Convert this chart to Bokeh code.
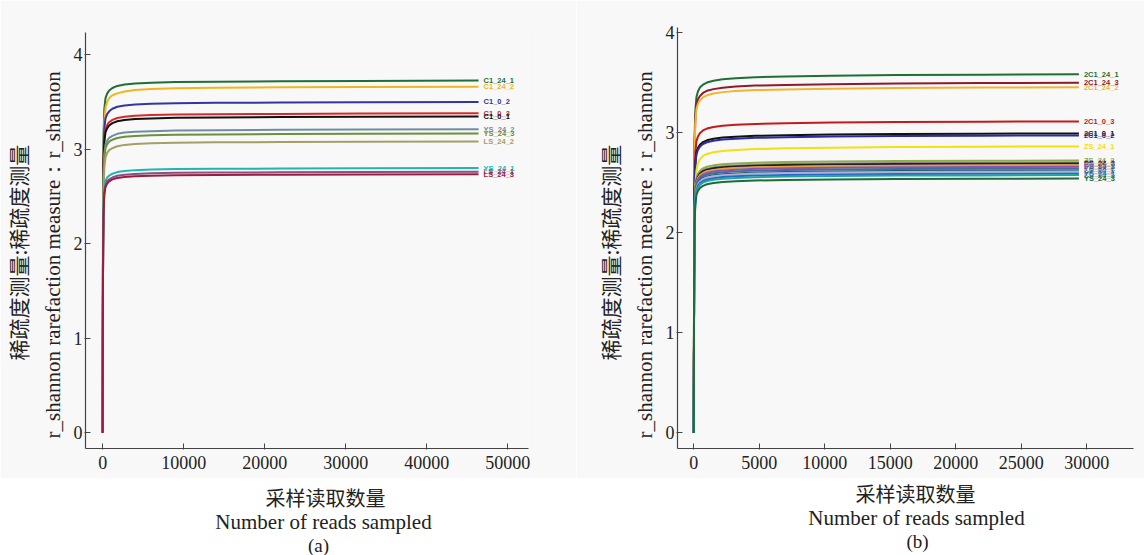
from bokeh.plotting import figure
from bokeh.layouts import row, column
from bokeh.models import Range1d, FixedTicker, Title
from bokeh.core.properties import value
from bokeh.embed import file_html
from bokeh.resources import INLINE

# ---------------- data: panel (a) ----------------
reads_a = [0, 40, 100, 200, 350, 550, 800, 1200, 1800, 2700, 4000, 6000, 9000,
           14000, 22000, 32000, 46400]
labels_a = ["C1_24_1", "C1_24_2", "C1_0_2", "C1_0_3", "C1_0_1", "YS_24_2",
            "YS_24_3", "LS_24_2", "YS_24_1", "LS_24_1", "LS_24_3"]
values_a = [
    [0, 2.235, 3.129, 3.427, 3.539, 3.587, 3.621, 3.647, 3.669, 3.684, 3.695, 3.703, 3.710, 3.714, 3.718, 3.721, 3.725],
    [0, 2.05, 2.95, 3.29, 3.44, 3.50, 3.54, 3.57, 3.59, 3.61, 3.625, 3.635, 3.645, 3.65, 3.655, 3.658, 3.66],
    [0, 2.10, 2.94, 3.22, 3.325, 3.37, 3.40, 3.427, 3.448, 3.462, 3.472, 3.479, 3.486, 3.490, 3.493, 3.497, 3.50],
    [0, 2.03, 2.84, 3.11, 3.21, 3.255, 3.285, 3.31, 3.33, 3.343, 3.353, 3.36, 3.366, 3.37, 3.373, 3.377, 3.38],
    [0, 2.00, 2.81, 3.08, 3.18, 3.22, 3.25, 3.275, 3.295, 3.308, 3.318, 3.325, 3.332, 3.336, 3.339, 3.342, 3.345],
    [0, 1.93, 2.70, 2.95, 3.05, 3.09, 3.12, 3.14, 3.162, 3.175, 3.184, 3.19, 3.197, 3.20, 3.204, 3.207, 3.21],
    [0, 1.90, 2.66, 2.91, 3.01, 3.05, 3.08, 3.10, 3.118, 3.13, 3.14, 3.146, 3.152, 3.156, 3.159, 3.162, 3.165],
    [0, 1.80, 2.55, 2.80, 2.91, 2.96, 2.99, 3.01, 3.03, 3.045, 3.055, 3.062, 3.068, 3.072, 3.075, 3.078, 3.08],
    [0, 1.68, 2.35, 2.58, 2.66, 2.70, 2.72, 2.74, 2.757, 2.768, 2.778, 2.784, 2.789, 2.792, 2.795, 2.797, 2.80],
    [0, 1.66, 2.32, 2.54, 2.62, 2.66, 2.68, 2.70, 2.718, 2.73, 2.738, 2.744, 2.749, 2.752, 2.755, 2.757, 2.76],
    [0, 1.64, 2.30, 2.52, 2.60, 2.635, 2.66, 2.68, 2.695, 2.705, 2.713, 2.719, 2.724, 2.727, 2.73, 2.732, 2.735],
]
colors_a = ["#1f6f35", "#f2b51c", "#3535a0", "#d42a2a", "#111111", "#6f8ea0",
            "#6e8f3c", "#a3a064", "#20b5b0", "#8a4f86", "#9a1e3c"]
xticks_a = [0, 10000, 20000, 30000, 40000, 50000]

# ---------------- data: panel (b) ----------------
reads_b = [0, 25, 60, 120, 200, 320, 480, 700, 1000, 1500, 2200, 3200, 4700,
           7000, 10500, 15500, 22000, 29400]
labels_b = ["2C1_24_1", "2C1_24_3", "2C1_24_2", "2C1_0_3", "2C1_0_1", "2C1_0_2",
            "ZS_24_1", "ZS_24_2", "ZS_24_3", "PS_24_3", "PS_24_1", "PS_24_2",
            "YS_24_2", "LS_24_1", "LS_24_2", "YS_24_1", "LS_24_3", "YS_24_3"]
values_b = [
    [0, 2.15, 2.94, 3.22, 3.35, 3.41, 3.45, 3.476, 3.498, 3.516, 3.53, 3.541, 3.551, 3.559, 3.566, 3.573, 3.576, 3.58],
    [0, 2.10, 2.87, 3.15, 3.27, 3.33, 3.365, 3.394, 3.415, 3.432, 3.446, 3.457, 3.467, 3.474, 3.481, 3.488, 3.492, 3.495],
    [0, 2.07, 2.83, 3.10, 3.23, 3.285, 3.32, 3.35, 3.37, 3.388, 3.402, 3.412, 3.422, 3.429, 3.436, 3.443, 3.447, 3.45],
    [0, 1.87, 2.55, 2.80, 2.91, 2.96, 2.995, 3.02, 3.038, 3.054, 3.066, 3.076, 3.085, 3.091, 3.098, 3.104, 3.107, 3.11],
    [0, 1.79, 2.45, 2.69, 2.80, 2.846, 2.88, 2.903, 2.921, 2.936, 2.948, 2.957, 2.966, 2.972, 2.978, 2.984, 2.987, 2.99],
    [0, 1.78, 2.44, 2.67, 2.78, 2.827, 2.86, 2.884, 2.902, 2.917, 2.928, 2.937, 2.946, 2.952, 2.958, 2.964, 2.967, 2.97],
    [0, 1.60, 2.20, 2.48, 2.62, 2.69, 2.735, 2.765, 2.785, 2.802, 2.815, 2.825, 2.834, 2.841, 2.848, 2.854, 2.857, 2.86],
    [0, 1.63, 2.23, 2.45, 2.54, 2.59, 2.62, 2.641, 2.657, 2.671, 2.682, 2.69, 2.698, 2.704, 2.709, 2.715, 2.717, 2.72],
    [0, 1.62, 2.21, 2.43, 2.525, 2.57, 2.60, 2.622, 2.638, 2.651, 2.662, 2.67, 2.678, 2.684, 2.689, 2.695, 2.697, 2.70],
    [0, 1.61, 2.21, 2.42, 2.515, 2.56, 2.59, 2.612, 2.628, 2.642, 2.652, 2.66, 2.668, 2.674, 2.679, 2.685, 2.687, 2.69],
    [0, 1.60, 2.19, 2.41, 2.50, 2.545, 2.574, 2.595, 2.612, 2.625, 2.636, 2.644, 2.652, 2.657, 2.662, 2.668, 2.670, 2.673],
    [0, 1.59, 2.18, 2.39, 2.485, 2.53, 2.559, 2.58, 2.596, 2.609, 2.62, 2.628, 2.636, 2.641, 2.646, 2.652, 2.654, 2.657],
    [0, 1.58, 2.16, 2.38, 2.47, 2.513, 2.542, 2.563, 2.579, 2.592, 2.603, 2.611, 2.619, 2.624, 2.629, 2.635, 2.637, 2.64],
    [0, 1.57, 2.15, 2.36, 2.45, 2.494, 2.523, 2.544, 2.56, 2.573, 2.583, 2.591, 2.599, 2.604, 2.61, 2.615, 2.617, 2.62],
    [0, 1.57, 2.14, 2.35, 2.44, 2.485, 2.513, 2.534, 2.55, 2.563, 2.573, 2.581, 2.589, 2.594, 2.60, 2.605, 2.607, 2.61],
    [0, 1.55, 2.12, 2.33, 2.42, 2.466, 2.494, 2.515, 2.53, 2.543, 2.554, 2.562, 2.569, 2.574, 2.58, 2.585, 2.587, 2.59],
    [0, 1.54, 2.11, 2.32, 2.41, 2.45, 2.479, 2.499, 2.515, 2.528, 2.538, 2.546, 2.553, 2.559, 2.564, 2.569, 2.571, 2.574],
    [0, 1.52, 2.08, 2.29, 2.375, 2.418, 2.446, 2.466, 2.482, 2.494, 2.504, 2.512, 2.52, 2.525, 2.53, 2.535, 2.537, 2.54],
]
colors_b = ["#1f6f35", "#8c1c2c", "#f2b530", "#c41a1a", "#111111", "#2c2ca0",
            "#f2e010", "#8fae48", "#8c8c8c", "#222222", "#e0a040", "#9a50a8",
            "#3f6fa0", "#1d5f6e", "#b6acd8", "#2468c8", "#22a5a0", "#1d6b3a"]
xticks_b = [0, 5000, 10000, 15000, 20000, 25000, 30000]

yticks = [0, 1, 2, 3, 4]

ytitle_cn = "稀疏度测量:稀疏度测量"
ytitle_en = "r_shannon rarefaction measure：r_shannon"
xtitle_cn = "采样读取数量"
xtitle_en = "Number of reads sampled"

SERIF = "Liberation Serif"
CJK = "Noto Sans CJK SC"
H_MAIN = 478
H_TEXT = 77
FRAME_BOTTOM = 448
TXT = "#222222"
PANEL_BG = "#f8f8f8"


def ytitle(text, font, offset, standoff):
    return Title(text=text, align="left", offset=offset, standoff=standoff,
                 text_font=font, text_font_size="21px", text_font_style="normal",
                 text_color=TXT)


def make_panel(reads, labels, values, colors, xticks, xr, yr, width, borders,
               left_titles):
    left, right, top = borders
    p = figure(width=width, height=H_MAIN, output_backend="svg", toolbar_location=None,
               x_range=Range1d(*xr), y_range=Range1d(*yr),
               min_border_left=left, min_border_right=right,
               min_border_top=top, min_border_bottom=H_MAIN - FRAME_BOTTOM,
               background_fill_color=PANEL_BG, border_fill_color=PANEL_BG,
               outline_line_color=None)
    p.grid.visible = False
    for ax, ticks in ((p.xaxis, xticks), (p.yaxis, yticks)):
        ax.ticker = FixedTicker(ticks=ticks)
        ax.axis_line_color = "#444444"
        ax.axis_line_width = 1.2
        ax.major_tick_line_color = "#444444"
        ax.major_tick_in = 5
        ax.major_tick_out = 1
        ax.minor_tick_line_color = None
        ax.major_label_text_font = SERIF
        ax.major_label_text_font_size = "18px"
        ax.major_label_text_color = TXT
    p.xaxis.major_label_standoff = 6
    p.yaxis.major_label_standoff = 2

    for vals, c in zip(values, colors):
        p.line(reads, vals, line_color=c, line_width=2, line_join="round")
    p.text(x=[reads[-1]] * len(labels), y=[v[-1] for v in values], text=labels,
           x_offset=5, text_color=colors, text_font=value("Liberation Sans"),
           text_font_size="7.5px", text_font_style="bold", text_baseline="middle")

    # y-axis titles: inner (English) first, then outer (Chinese)
    o_en, s_en, o_cn, s_cn = left_titles
    p.add_layout(ytitle(ytitle_en, SERIF, o_en, s_en), "left")
    p.add_layout(ytitle(ytitle_cn, CJK, o_cn, s_cn), "left")
    return p


def make_caption(width, frame_x, spots, tag):
    # strip under a panel holding the x-axis titles and the panel tag;
    # its frame is aligned with the panel's frame, so x is in canvas pixels
    c = figure(width=width, height=H_TEXT, output_backend="svg", toolbar_location=None,
               x_range=Range1d(*frame_x), y_range=Range1d(H_TEXT, 0),
               x_axis_location=None, y_axis_location=None, min_border=0,
               background_fill_color="white", border_fill_color="white",
               outline_line_color=None)
    c.grid.visible = False
    (x1, y1), (x2, y2), (x3, y3) = spots
    c.text(x=[x1], y=[y1], text=[xtitle_cn], text_font=value(CJK), text_font_size="20px",
           text_align="center", text_baseline="middle", text_color=TXT)
    c.text(x=[x2], y=[y2], text=[xtitle_en], text_font=value(SERIF), text_font_size="21px",
           text_align="center", text_baseline="middle", text_color=TXT)
    c.text(x=[x3], y=[y3], text=[tag], text_font=value(SERIF), text_font_size="19px",
           text_align="center", text_baseline="middle", text_color=TXT)
    return c


W_A, W_B = 576, 568
pa = make_panel(reads_a, labels_a, values_a, colors_a, xticks_a,
                (-2121, 52565), (-0.167, 4.234), W_A, (85, 48, 32),
                (10, 11, 88, 1))
pb = make_panel(reads_b, labels_b, values_b, colors_b, xticks_b,
                (-1244, 33565), (-0.155, 4.047), W_B, (101, 11, 27),
                (10, 11, 88, 1))
ca = make_caption(W_A, (85, 528), ((325, 19), (323, 43), (318, 67)), "(a)")
cb = make_caption(W_B, (101, 557), ((339, 15), (340, 39), (341, 63)), "(b)")

layout = row(column(pa, ca), column(pb, cb))
open("out.html", "w").write(file_html(layout, INLINE))
